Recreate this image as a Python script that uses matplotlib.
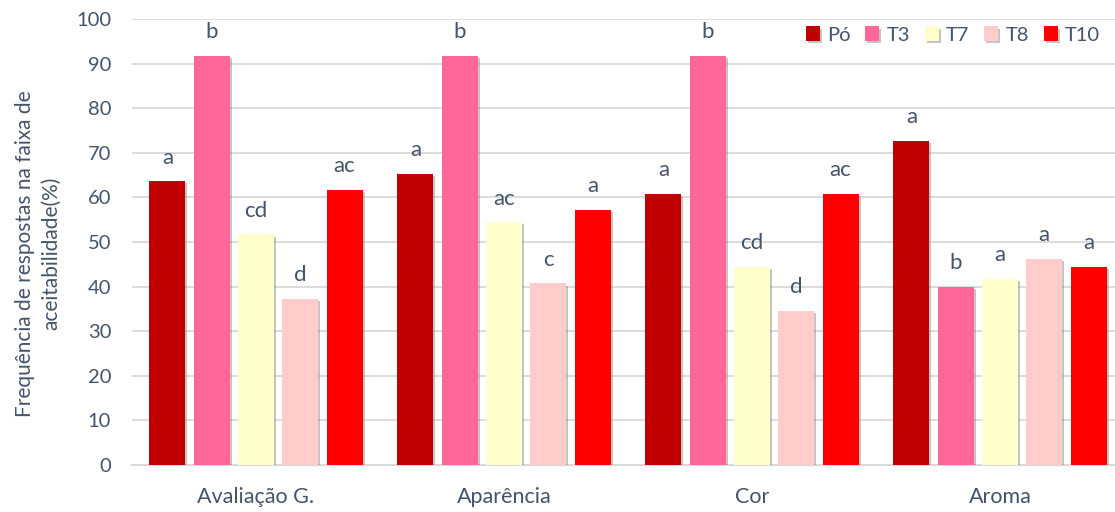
import numpy as np
import matplotlib.pyplot as plt
import matplotlib.patheffects as pe

plt.rcParams['font.family'] = ['Lato', 'DejaVu Sans']

categorias = ['Avaliação G.', 'Aparência', 'Cor', 'Aroma']
tratamentos = ['Pó', 'T3', 'T7', 'T8', 'T10']
cores = ['#c00000', '#ff6699', '#ffffcc', '#ffcccc', '#ff0000']

po = [63.6, 65.3, 60.8, 72.7]
t3 = [91.8, 91.8, 91.8, 39.9]
t7 = [51.7, 54.4, 44.4, 41.7]
t8 = [37.2, 40.7, 34.5, 46.3]
t10 = [61.7, 57.2, 60.8, 44.5]
valores = [po, t3, t7, t8, t10]

letras_po = ['a', 'a', 'a', 'a']
letras_t3 = ['b', 'b', 'b', 'b']
letras_t7 = ['cd', 'ac', 'cd', 'a']
letras_t8 = ['d', 'c', 'd', 'a']
letras_t10 = ['ac', 'a', 'ac', 'a']
letras = [letras_po, letras_t3, letras_t7, letras_t8, letras_t10]

cor_texto = '#44546a'
cor_grade = '#d9d9d9'

fig = plt.figure(figsize=(11.15, 5.12), dpi=100)
ax = fig.add_axes([132 / 1115, 47 / 512, 992 / 1115, 446 / 512])

x = np.arange(len(categorias))
passo = 0.1786
largura = 0.145
sombra = [pe.SimplePatchShadow(offset=(1.5, -1.5), shadow_rgbFace='#7f7f7f', alpha=0.45), pe.Normal()]

for i, (nome, cor) in enumerate(zip(tratamentos, cores)):
    pos = x + (i - 2) * passo
    barras = ax.bar(pos, valores[i], largura, color=cor, label=nome, zorder=3)
    for b in barras:
        b.set_path_effects(sombra)
    for xp, v, l in zip(pos, valores[i], letras[i]):
        ax.annotate(l, (xp, v), xytext=(0, 12.7), textcoords='offset points',
                    ha='center', va='baseline', fontsize=16, color=cor_texto,
                    annotation_clip=False)

ax.set_xlim(-0.5, 3.5)
ax.set_ylim(0, 100)
ax.set_yticks(range(0, 101, 10))
ax.set_xticks(x)
ax.set_xticklabels(categorias)
ax.grid(axis='y', color=cor_grade, linewidth=1.3, zorder=0)
ax.set_axisbelow(True)
for s in ['top', 'right', 'left']:
    ax.spines[s].set_visible(False)
ax.spines['bottom'].set_color(cor_grade)
ax.spines['bottom'].set_linewidth(1.5)
ax.tick_params(axis='both', length=0, labelcolor=cor_texto)
ax.tick_params(axis='y', pad=15, labelsize=14.5)
ax.tick_params(axis='x', pad=16, labelsize=15.5)

fig.text(0.034, 0.505, 'Frequência de respostas na faixa de\naceitabilidade(%)',
         rotation=90, ha='center', va='center', multialignment='center',
         fontsize=15, color=cor_texto, linespacing=1.4)

leg = fig.legend(loc='center right', bbox_to_anchor=(1110 / 1115, 1 - 35 / 512),
                 ncol=5, frameon=False, fontsize=14.5, handlelength=0.7,
                 handleheight=0.7, handletextpad=0.35, columnspacing=0.74,
                 borderpad=0, labelcolor=cor_texto)

fig.savefig('out.png', dpi=100)
